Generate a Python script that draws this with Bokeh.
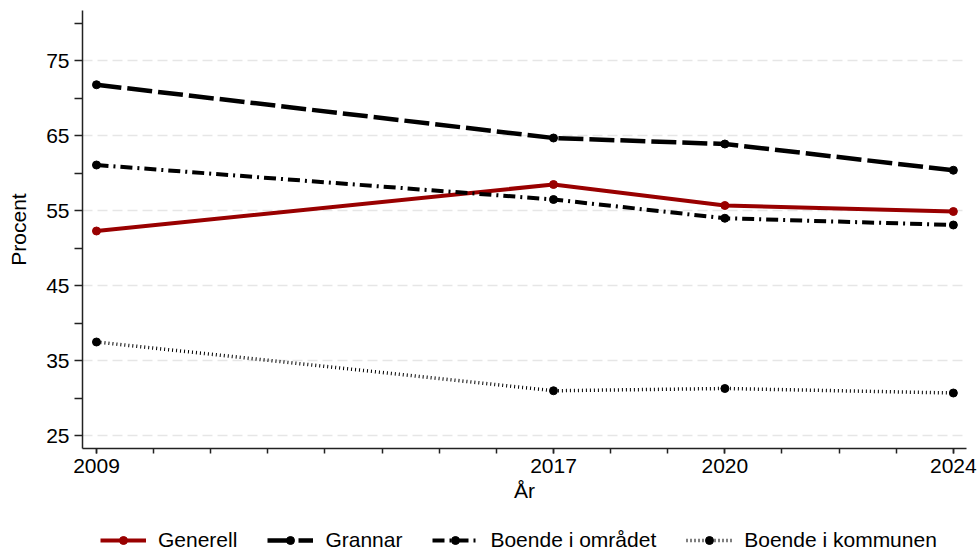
from bokeh.plotting import figure
from bokeh.layouts import column
from bokeh.models import Range1d, FixedTicker, Legend, LegendItem
from bokeh.embed import file_html
from bokeh.resources import INLINE

years = [2009, 2017, 2020, 2024]
generell = [52.3, 58.5, 55.7, 54.9]
grannar = [71.8, 64.7, 63.9, 60.4]
omradet = [61.1, 56.5, 54.0, 53.1]
kommunen = [37.5, 31.0, 31.3, 30.7]
series_names = ["Generell", "Grannar", "Boende i området", "Boende i kommunen"]
y_major = [25, 35, 45, 55, 65, 75]
y_minor = [30, 40, 50, 60, 70, 80]
x_minor = list(range(2009, 2025))

FONT = "Liberation Sans"
FS = "21px"

p = figure(width=978, height=516, output_backend="svg", toolbar_location=None,
           x_range=Range1d(2008.755, 2024.23), y_range=Range1d(23.3, 81.7),
           min_border_left=82, min_border_right=12, min_border_top=10, min_border_bottom=68)
p.outline_line_color = None
p.background_fill_color = "white"
p.border_fill_color = "white"

styles = [
    (dict(line_color="#990000", line_width=4, line_dash="solid"), "#990000"),
    (dict(line_color="black", line_width=4.5, line_dash="25 6"), "black"),
    (dict(line_color="black", line_width=4, line_dash="12 5 2 5"), "black"),
    (dict(line_color="black", line_width=3.5, line_dash="1 3"), "black"),
]
data = [generell, grannar, omradet, kommunen]
for vals, (lstyle, mcol) in zip(data, styles):
    p.line(years, vals, **lstyle)
    p.scatter(years, vals, size=8, fill_color=mcol, line_color=mcol)

# axes
for ax in (p.xaxis[0], p.yaxis[0]):
    ax.axis_line_color = "#222222"
    ax.axis_line_width = 1.5
    ax.major_tick_line_color = "#222222"
    ax.minor_tick_line_color = "#222222"
    ax.major_tick_line_width = 1.5
    ax.minor_tick_line_width = 1.5
    ax.major_tick_in = 0
    ax.minor_tick_in = 0
    ax.major_label_text_font = FONT
    ax.major_label_text_font_size = FS
    ax.major_label_text_color = "black"
    ax.axis_label_text_font = FONT
    ax.axis_label_text_font_size = FS
    ax.axis_label_text_font_style = "normal"
    ax.axis_label_text_color = "black"

p.xaxis.ticker = FixedTicker(ticks=years, minor_ticks=x_minor)
p.xaxis.major_tick_out = 5
p.xaxis.minor_tick_out = 5
p.xaxis.major_label_standoff = 5
p.xaxis.axis_label = "År"
p.xaxis.axis_label_standoff = 3

p.yaxis.ticker = FixedTicker(ticks=y_major, minor_ticks=y_minor)
p.yaxis.major_tick_out = 8
p.yaxis.minor_tick_out = 8
p.yaxis.major_label_standoff = 5
p.yaxis.axis_label = "Procent"
p.yaxis.axis_label_standoff = 13

p.xgrid.visible = False
p.ygrid.ticker = FixedTicker(ticks=y_major)
p.ygrid.grid_line_color = "#e6e6e6"
p.ygrid.grid_line_width = 1.5
p.ygrid.grid_line_dash = "10 5"

# legend strip (its renderers lie outside the strip's ranges, only the legend shows)
q = figure(width=978, height=38, output_backend="svg", toolbar_location=None,
           min_border_left=0, min_border_right=0, min_border_top=0, min_border_bottom=0,
           x_range=Range1d(0, 1), y_range=Range1d(0, 1))
q.outline_line_color = None
q.axis.visible = False
q.grid.visible = False
items = []
for name, vals, (lstyle, mcol) in zip(series_names, data, styles):
    r1 = q.line(years, vals, **lstyle)
    r2 = q.scatter(years, vals, size=8, fill_color=mcol, line_color=mcol)
    items.append(LegendItem(label=name, renderers=[r1, r2]))
legend = Legend(items=items, orientation="horizontal", location=(18, 2),
                label_text_font=FONT, label_text_font_size=FS,
                label_text_color="black",
                glyph_width=46, glyph_height=20, label_standoff=12, spacing=30,
                padding=0, margin=0, border_line_color=None,
                background_fill_alpha=0)
q.add_layout(legend, "center")

layout = column(p, q, spacing=0)
open("out.html", "w").write(file_html(layout, INLINE))
